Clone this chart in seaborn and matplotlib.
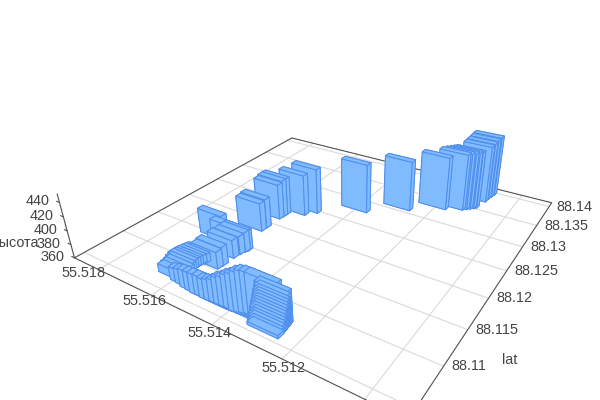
"""Flight track as 3D bars: lon / lat on the floor, height as bar top."""

import pandas as pd
import matplotlib
matplotlib.use("Agg")
import matplotlib.pyplot as plt
import seaborn as sns
from mpl_toolkits.mplot3d import proj3d

# ── Data ──────────────────────────────────────────────────────────────────────
# track runs: first the far bars and the curl, then the low ribbon, then the stack
lon = [55.51403, 55.51299, 55.51210, 55.51165, 55.51156, 55.51148, 55.51140, 55.51134,
       55.51125, 55.51123, 55.51120, 55.51117,
       55.51604, 55.51603, 55.51603, 55.51601, 55.51600, 55.51552, 55.51527,
       55.51664, 55.51616, 55.51580, 55.51577, 55.51573, 55.51570, 55.51582, 55.51580,
       55.51616, 55.51619, 55.51622, 55.51628, 55.51633, 55.51634, 55.51632, 55.51631,
       55.51626, 55.51623,
       55.51565, 55.51545, 55.51523, 55.51504, 55.51486, 55.51470, 55.51452, 55.51437,
       55.51422, 55.51407, 55.51392, 55.51377, 55.51360, 55.51348, 55.51336, 55.51324,
       55.51310,
       55.51296, 55.51295, 55.51295, 55.51294, 55.51293, 55.51293, 55.51293, 55.51292,
       55.51292, 55.51291, 55.51291, 55.51290, 55.51290, 55.51289]
lat = [88.12759, 88.13060, 88.13299, 88.13392, 88.13428, 88.13460, 88.13493, 88.13523,
       88.13717, 88.13796, 88.13863, 88.13932,
       88.11806, 88.11886, 88.12120, 88.12180, 88.12235, 88.12336, 88.12451,
       88.11444, 88.11430, 88.11246, 88.11331, 88.11394, 88.11420, 88.11021, 88.11086,
       88.10681, 88.10731, 88.10783, 88.10829, 88.10877, 88.10915, 88.10941, 88.10985,
       88.11017, 88.11047,
       88.10652, 88.10644, 88.10625, 88.10618, 88.10610, 88.10614, 88.10606, 88.10609,
       88.10613, 88.10616, 88.10619, 88.10622, 88.10615, 88.10628, 88.10642, 88.10655,
       88.10658,
       88.10715, 88.10702, 88.10687, 88.10675, 88.10660, 88.10653, 88.10638, 88.10626,
       88.10611, 88.10604, 88.10589, 88.10577, 88.10563, 88.10550]
height = [434.2, 435.9, 440.4, 445.5, 445.6, 445.7, 445.7, 445.8,
          446.2, 447.4, 449.3, 451.3,
          402.1, 403.9, 412.8, 415.7, 415.9, 421.9, 428.3,
          396.2, 387.6, 386.2, 386.4, 388.0, 388.9, 384.3, 386.6,
          371.7, 371.7, 371.8, 371.8, 371.9, 371.2, 372.0, 371.2, 372.0, 372.0,
          378.6, 381.4, 385.4, 386.7, 387.9, 387.8, 387.7, 389.0,
          391.6, 396.8, 400.7, 405.8, 410.7, 414.5, 416.9, 416.9, 416.7,
          403.4, 399.4, 395.5, 392.8, 390.2, 386.9, 384.2, 381.6,
          378.9, 375.5, 372.8, 370.2, 366.8, 364.1]
N_FAR = 37

lon_grid = [55.518, 55.516, 55.514, 55.512, 55.510]
lat_grid = [88.105, 88.11, 88.115, 88.12, 88.125, 88.13, 88.135, 88.14]
lon_labels = ["55.518", "55.516", "55.514", "55.512"]
lat_labels = ["88.11", "88.115", "88.12", "88.125", "88.13", "88.135", "88.14"]
z_ticks = [360, 380, 400, 420, 440]

# ── Scene limits and camera ───────────────────────────────────────────────────
LON_MIN, LON_MAX = 55.509081, 55.519021
LAT_MIN, LAT_MAX = 88.103823, 88.141068
Z_MIN, Z_MAX = 360.0, 451.63
BAR_LON = 0.00088
BAR_LAT = 0.0008

FACE = "#80BAFF"
EDGE = "#4F8FEC"
GRID = "#DADADA"
FRAME = "#505050"
TEXT = "#444444"
FONT_SIZE = 10.4

sns.set_theme(style="white")
plt.rcParams["font.family"] = ["Liberation Sans", "DejaVu Sans"]

fig = plt.figure(figsize=(6, 4), dpi=100)
ax = fig.add_axes([0.12971, -0.12358, 0.81359, 1.22038], projection="3d")
ax.view_init(elev=28.5005, azim=-56.002, roll=1.048)
ax.set_proj_type("persp", focal_length=0.220053)
ax.set_box_aspect((1.017315, 1, 0.198962))
ax.set_xlim(LON_MAX, LON_MIN, view_margin=0)
ax.set_ylim(LAT_MIN, LAT_MAX, view_margin=0)
ax.set_zlim(Z_MIN, Z_MAX, view_margin=0)
ax.set_axis_off()
ax.computed_zorder = False

# ── Floor grid and frame ──────────────────────────────────────────────────────
line_kw = dict(lw=0.8, clip_on=False)
for v in lon_grid:
    ax.plot([v, v], [LAT_MIN, LAT_MAX], [Z_MIN, Z_MIN], color=GRID, zorder=1, **line_kw)
for v in lat_grid:
    ax.plot([LON_MIN, LON_MAX], [v, v], [Z_MIN, Z_MIN], color=GRID, zorder=1, **line_kw)

frame_lon = [LON_MAX, LON_MAX, LON_MIN, LON_MIN, LON_MAX]
frame_lat = [LAT_MIN, LAT_MAX, LAT_MAX, LAT_MIN, LAT_MIN]
ax.plot(frame_lon, frame_lat, [Z_MIN] * 5, color=FRAME, zorder=2, **line_kw)
ax.plot([LON_MAX, LON_MAX], [LAT_MIN, LAT_MIN], [Z_MIN, Z_MAX], color=FRAME, zorder=2, **line_kw)
for v in z_ticks:
    ax.plot([LON_MAX, LON_MAX + 0.00012], [LAT_MIN, LAT_MIN], [v, v], color=FRAME, zorder=2, **line_kw)

# ── Bars, painted from the far end of the scene to the camera ─────────────────
df = pd.DataFrame({"lon": lon, "lat": lat, "height": height})
far = df.iloc[:N_FAR].sort_values("lat", ascending=False)
painted = pd.concat([far, df.iloc[N_FAR:]])

for i, row in enumerate(painted.itertuples()):
    ax.bar3d(row.lon - BAR_LON / 2, row.lat, Z_MIN, BAR_LON, BAR_LAT, row.height - Z_MIN,
             color=FACE, edgecolor=EDGE, linewidth=0.7, shade=False, zorder=3 + i)


# ── Tick labels ───────────────────────────────────────────────────────────────
def label(text, x, y, z, dx, dy, ha):
    px, py, _ = proj3d.proj_transform(x, y, z, ax.get_proj())
    ax.annotate(text, xy=(px, py), xytext=(dx, dy), textcoords="offset pixels",
                ha=ha, va="center", color=TEXT, fontsize=FONT_SIZE, zorder=200,
                annotation_clip=False)


lon_offsets = [(-15, -3), (-7, -6), (-2, -8), (1, -9)]
for text, v, (dx, dy) in zip(lon_labels, lon_grid, lon_offsets):
    label(text, v, LAT_MIN, Z_MIN, dx, dy, "center")
for text, v in zip(lat_labels, lat_grid[1:]):
    label(text, LON_MIN, v, Z_MIN, 7.5, 0, "left")
for v in z_ticks:
    label(str(v), LON_MAX, LAT_MIN, v, -10, 1, "right")

fig.text(38 / 600, 1 - 243 / 400, "высота", ha="right", va="center", color=TEXT, fontsize=FONT_SIZE)
fig.text(510 / 600, 1 - 360 / 400, "lat", ha="center", va="center", color=TEXT, fontsize=FONT_SIZE)

fig.savefig("out.png", dpi=100, facecolor="white")
